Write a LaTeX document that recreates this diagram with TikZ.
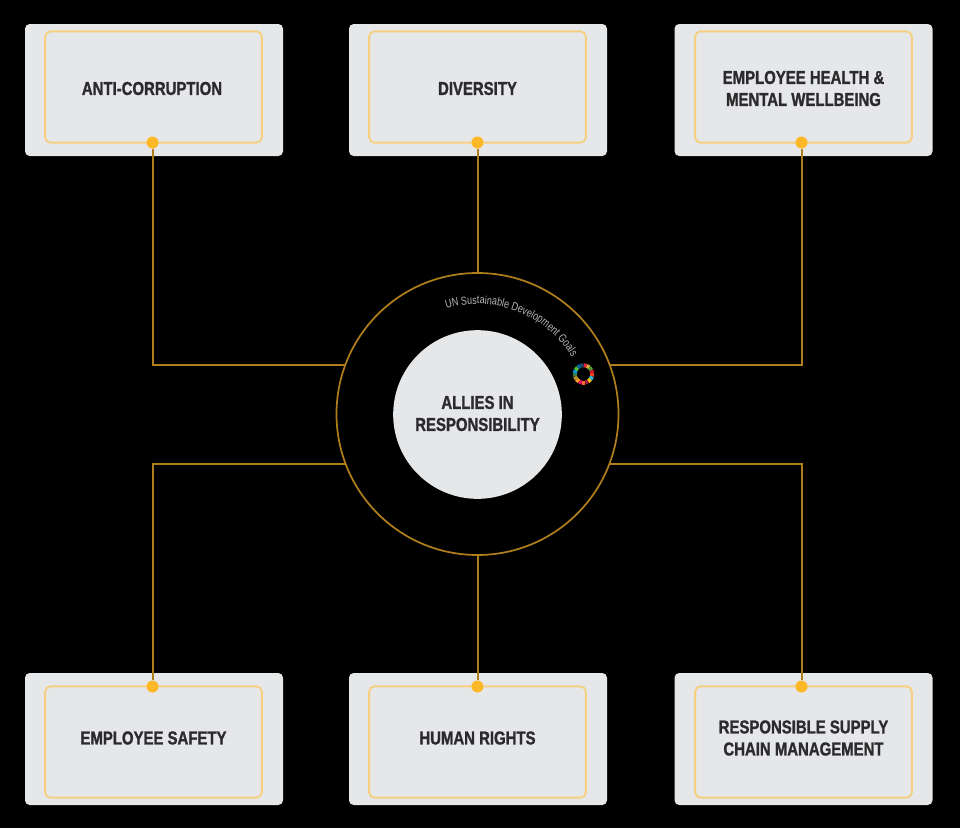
\documentclass[tikz,border=0pt]{standalone}
\usepackage{fontspec}
\usetikzlibrary{decorations.text}
\setmainfont{Liberation Sans}
\newfontfamily\boxfont[FakeStretch=0.80,FakeBold=1.2]{Liberation Sans Bold}
\newfontfamily\arcfont[FakeStretch=0.78]{Liberation Sans}
\definecolor{panelgrey}{HTML}{E6E7E8}
\definecolor{innergold}{HTML}{F6D080}
\definecolor{linegold}{HTML}{AE7E1C}
\definecolor{dotgold}{HTML}{FDB827}
\definecolor{inktext}{HTML}{2B2A2C}
\definecolor{arcgrey}{HTML}{B5B5B5}
\tikzset{
  outerbox/.style={fill=panelgrey,rounded corners=3.5pt,minimum width=193.5pt,minimum height=99pt,inner sep=0pt},
  innerbox/.style={draw=innergold,line width=1.4pt,rounded corners=4pt,minimum width=162.5pt,minimum height=83.5pt,inner sep=0pt},
  labeltext/.style={font=\boxfont\fontsize{14}{16.5}\selectfont,text=inktext,align=center,inner sep=0pt},
  dotn/.style={circle,fill=dotgold,minimum size=9pt,inner sep=0pt},
  conn/.style={draw=linegold,line width=1.5pt},
  ringn/.style={circle,draw=linegold,line width=1.3pt,minimum size=211.5pt,inner sep=0pt},
  hubn/.style={circle,fill=panelgrey,minimum size=126.5pt,inner sep=0pt},
}
\begin{document}
\begin{tikzpicture}[x=0.75pt,y=-0.75pt]
\useasboundingbox (0,0) rectangle (960,828);
\fill[black] (0,0) rectangle (960,828);
% outer cards
\node[outerbox] (o1) at (154,90) {};
\node[outerbox] (o2) at (478,90) {};
\node[outerbox] (o3) at (803.5,90) {};
\node[outerbox] (o4) at (154,739) {};
\node[outerbox] (o5) at (478,739) {};
\node[outerbox] (o6) at (803.5,739) {};
% inner frames
\node[innerbox] (b1) at (153.5,87) {};
\node[innerbox] (b2) at (477.5,87) {};
\node[innerbox] (b3) at (803.5,87) {};
\node[innerbox] (b4) at (153.5,742) {};
\node[innerbox] (b5) at (477.5,742) {};
\node[innerbox] (b6) at (803.5,742) {};
% labels
\node[labeltext] (t1) at (152,88.5) {ANTI-CORRUPTION};
\node[labeltext] (t2) at (477.5,88.5) {DIVERSITY};
\node[labeltext] (t3) at (803.5,88.5) {EMPLOYEE HEALTH \&\\MENTAL WELLBEING};
\node[labeltext] (t4) at (153.5,738) {EMPLOYEE SAFETY};
\node[labeltext] (t5) at (477.5,738) {HUMAN RIGHTS};
\node[labeltext] (t6) at (803.5,738) {RESPONSIBLE SUPPLY\\CHAIN MANAGEMENT};
% centre
\node[ringn] (ring) at (477.5,414) {};
\node[hubn] (hub) at (477.5,414.5) {};
\node[labeltext] (thub) at (477.5,413.5) {ALLIES IN\\RESPONSIBILITY};
% dots
\node[dotn] (d1) at (152.5,142.5) {};
\node[dotn] (d2) at (477.5,142.5) {};
\node[dotn] (d3) at (801.5,142.5) {};
\node[dotn] (d4) at (152.5,686.5) {};
\node[dotn] (d5) at (477.5,686.5) {};
\node[dotn] (d6) at (801.5,686.5) {};
% ring junctions
\coordinate (jtl) at (345,365);
\coordinate (jtr) at (610,365);
\coordinate (jbl) at (345,463.5);
\coordinate (jbr) at (610,463.5);
% connectors
\draw[conn] (d1) |- (jtl);
\draw[conn] (d2) -- (ring);
\draw[conn] (d3) |- (jtr);
\draw[conn] (d4) |- (jbl);
\draw[conn] (d5) -- (ring);
\draw[conn] (d6) |- (jbr);
% curved caption
\path[decorate,decoration={text along path,text align=left,
  text={|\arcfont\fontsize{8.7}{9}\selectfont\color{arcgrey}|UN Sustainable Development Goals}}]
  (ring.center) ++(106.5:82.5pt) arc[start angle=106.5,end angle=25,radius=82.5pt];
% goals wheel
\coordinate (wheel) at (583.5,374);
\foreach \i/\c in {0/E5243B,1/DDA63A,2/4C9F38,3/C5192D,4/FF3A21,5/26BDE2,6/FCC30B,7/A21942,8/FD6925,9/DD1367,10/FD9D24,11/BF8B2E,12/3F7E44,13/0A97D9,14/56C02B,15/00689D,16/19486A}{
  \definecolor{seg}{HTML}{\c}
  \draw[seg,line width=3pt] (wheel) ++({90-\i*360/17}:6.6pt)
    arc[start angle={90-\i*360/17},end angle={90-(\i+1)*360/17},radius=6.6pt];
}
\end{tikzpicture}
\end{document}
